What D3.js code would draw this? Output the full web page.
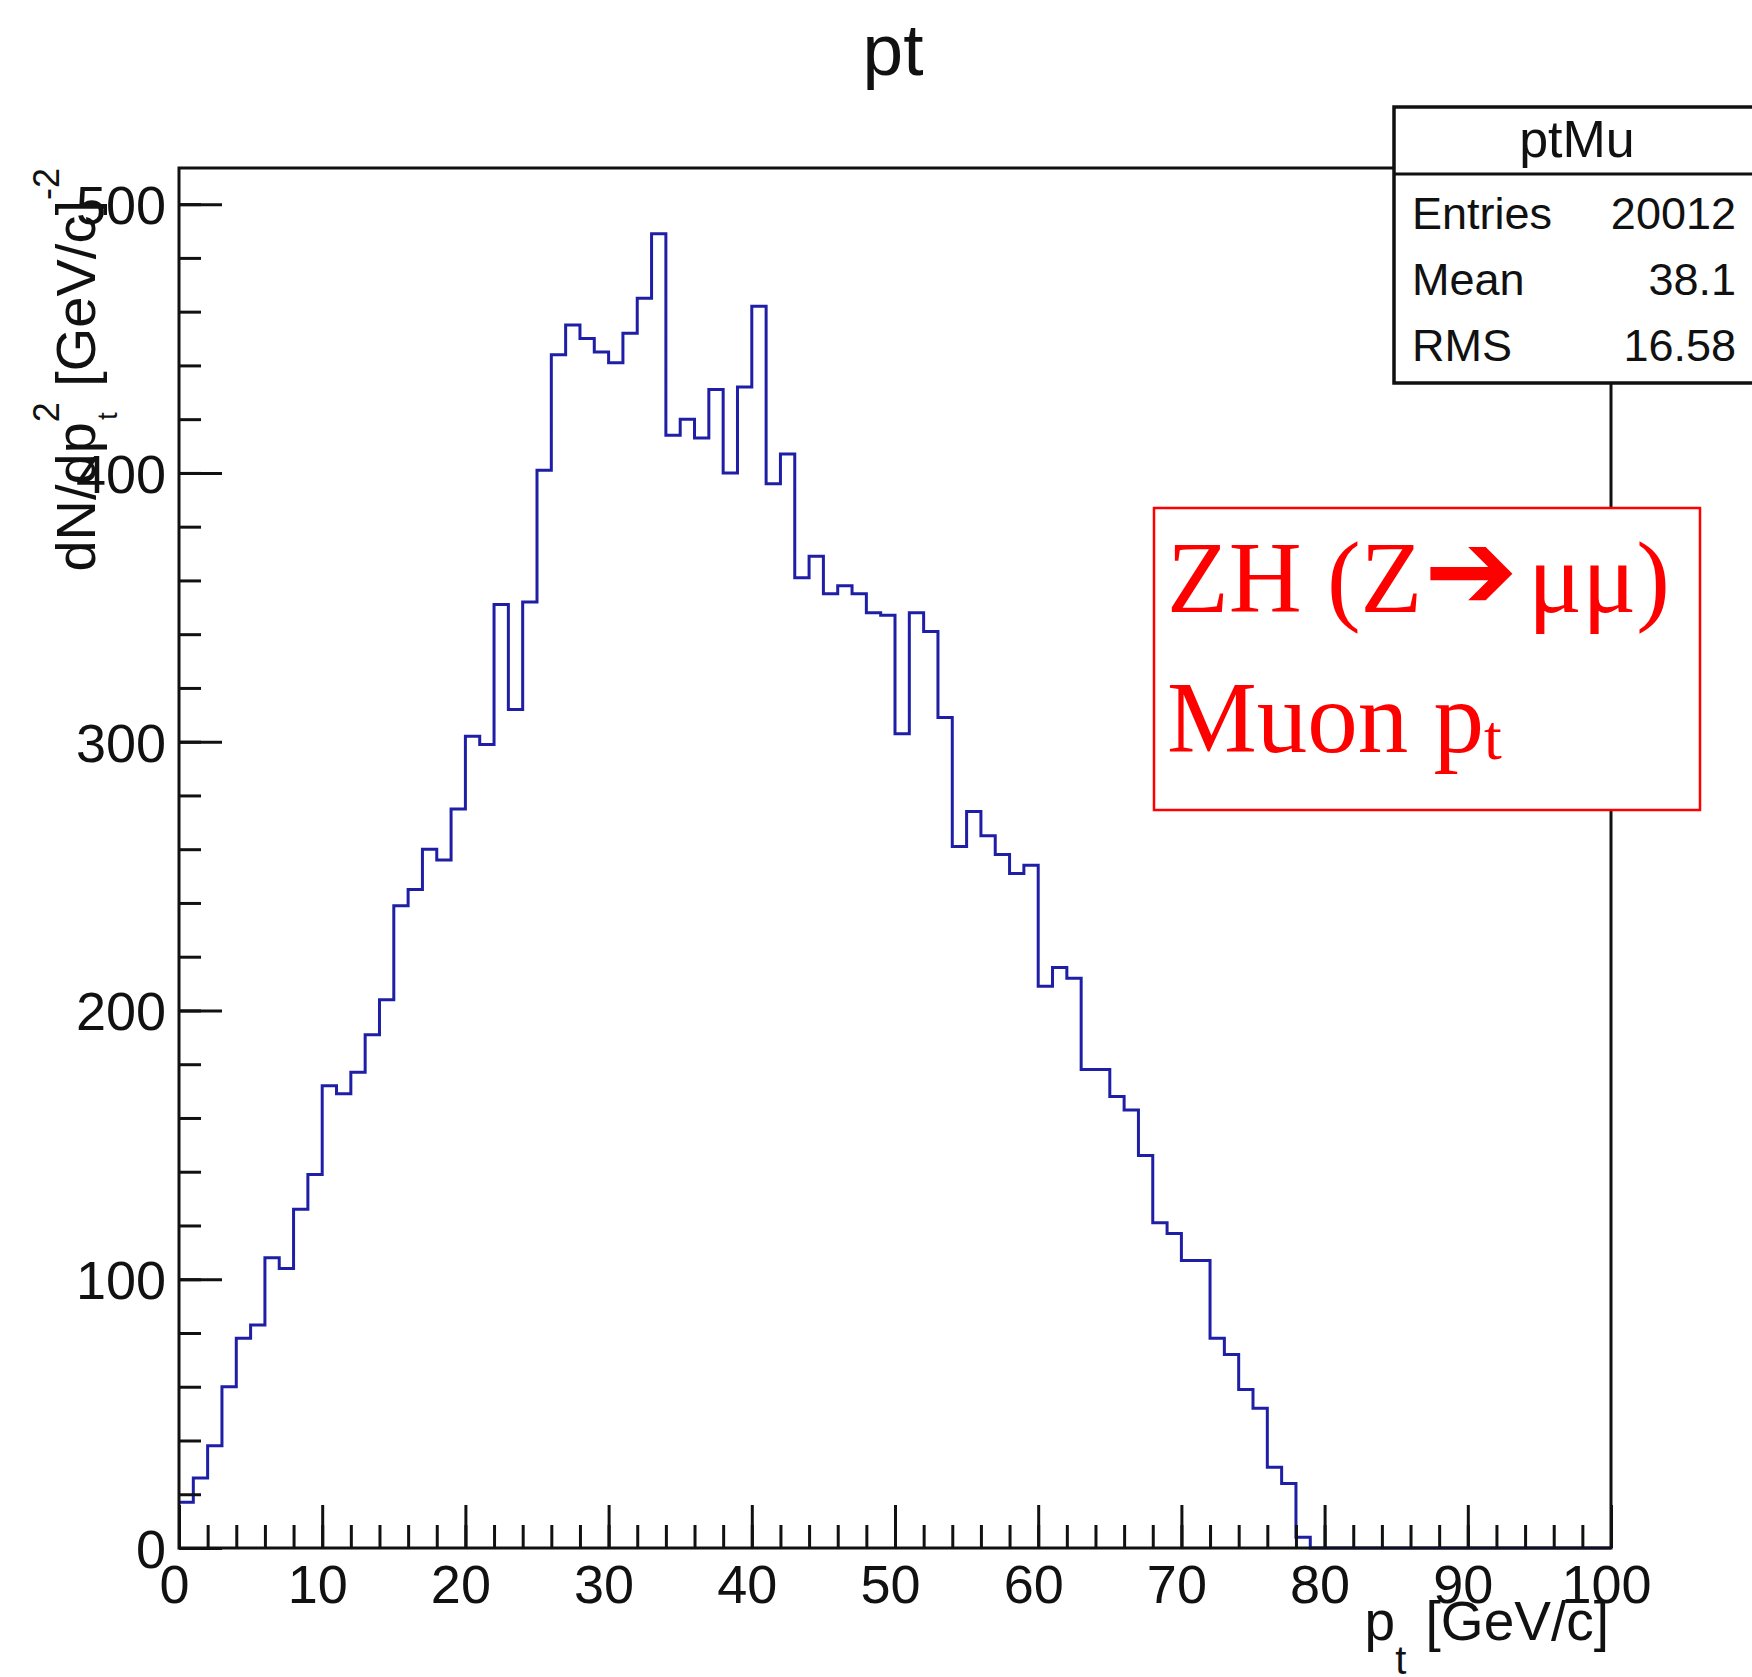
<!DOCTYPE html>
<html>
<head>
<meta charset="utf-8">
<script src="https://cdn.jsdelivr.net/npm/d3@7"></script>
<style>
  body { margin: 0; background: #fff; }
  svg { font-family: 'Liberation Sans', Arial, sans-serif; }
</style>
</head>
<body>
<div id="chart"></div>
<script>
// muon pt histogram, 100 bins of 1 GeV/c from 0 to 100
const ptCounts = [
  17, 26, 38, 60, 78, 83, 108, 104, 126, 139,
  172, 169, 177, 191, 204, 239, 245, 260, 256, 275,
  302, 299, 351, 312, 352, 401, 444, 455, 450, 445,
  441, 452, 465, 489, 414, 420, 413, 431, 400, 432,
  462, 396, 407, 361, 369, 355, 358, 355, 348, 347,
  303, 348, 341, 309, 261, 274, 265, 258, 251, 254,
  209, 216, 212, 178, 178, 168, 163, 146, 121, 117,
  107, 107, 78, 72, 59, 52, 30, 24, 4, 0,
  0, 0, 0, 0, 0, 0, 0, 0, 0, 0,
  0, 0, 0, 0, 0, 0, 0, 0, 0, 0
]
const xRange = [0, 100]
const xTicks = [0, 10, 20, 30, 40, 50, 60, 70, 80, 90, 100]
const yTicks = [0, 100, 200, 300, 400, 500]
const statLabels = ['Entries', 'Mean', 'RMS']
const statValues = ['20012', '38.1', '16.58']

const W = 1752
const H = 1677
const margin = { top: 168, right: 141, bottom: 129, left: 179 }
const width = W - margin.left - margin.right
const height = H - margin.top - margin.bottom

const svg = d3.select('#chart')
  .append('svg')
  .attr('width', W)
  .attr('height', H)

const g = svg.append('g')
  .attr('transform', `translate(${margin.left},${margin.top})`)

const x = d3.scaleLinear()
  .domain(xRange)
  .range([0, width])
// ROOT puts the maximum at 1.05 x the highest bin
const y = d3.scaleLinear()
  .domain([0, d3.max(ptCounts) * 1.05])
  .range([height, 0])

// histogram outline
const binWidth = (xRange[1] - xRange[0]) / ptCounts.length
const points = ptCounts.map((v, i) => [xRange[0] + i * binWidth, v])
points.push([xRange[1], ptCounts[ptCounts.length - 1]])

const line = d3.line()
  .x(d => x(d[0]))
  .y(d => y(d[1]))
  .curve(d3.curveStepAfter)

g.append('path')
  .datum(points)
  .attr('d', line)
  .attr('fill', 'none')
  .attr('stroke', '#1e1ea6')
  .attr('stroke-width', 3)

// minor ticks first, then the major ones with labels
g.append('g')
  .attr('transform', `translate(0,${height})`)
  .call(d3.axisBottom(x).tickValues(d3.range(0, 101, 2)).tickSizeInner(-23).tickSizeOuter(0).tickFormat(''))
  .call(ax => ax.select('.domain').remove())

const xAxis = g.append('g')
  .attr('transform', `translate(0,${height})`)
  .call(d3.axisBottom(x).tickValues(xTicks).tickSizeInner(-43).tickSizeOuter(0).tickFormat(d3.format('d')))
  .call(ax => ax.select('.domain').remove())

xAxis.selectAll('text')
  .attr('x', -5)
  .attr('y', 55)
  .attr('dy', 0)
  .attr('font-size', 54)
  .attr('font-family', null)
  .attr('fill', '#111')

g.append('g')
  .call(d3.axisLeft(y).tickValues(d3.range(0, 501, 20)).tickSizeInner(-22).tickSizeOuter(0).tickFormat(''))
  .call(ax => ax.select('.domain').remove())

const yAxis = g.append('g')
  .call(d3.axisLeft(y).tickValues(yTicks).tickSizeInner(-43).tickSizeOuter(0).tickPadding(13).tickFormat(d3.format('d')))
  .call(ax => ax.select('.domain').remove())

yAxis.selectAll('text')
  .attr('dy', '0.36em')
  .attr('font-size', 54)
  .attr('font-family', null)
  .attr('fill', '#111')

svg.selectAll('.tick line')
  .attr('stroke', '#111')
  .attr('stroke-width', 3)

// frame
g.append('rect')
  .attr('width', width)
  .attr('height', height)
  .attr('fill', 'none')
  .attr('stroke', '#111')
  .attr('stroke-width', 3)

// title
svg.append('text')
  .attr('x', margin.left + width / 2 - 2)
  .attr('y', 75)
  .attr('text-anchor', 'middle')
  .attr('font-size', 73)
  .attr('fill', '#111')
  .text('pt')

// x axis title
const xTitle = svg.append('text')
  .attr('x', margin.left + width - 2)
  .attr('y', 1640)
  .attr('text-anchor', 'end')
  .attr('font-size', 55)
  .attr('fill', '#111')
xTitle.append('tspan').text('p')
xTitle.append('tspan').attr('font-size', 40).attr('dy', 34).text('t')
xTitle.append('tspan').attr('dy', -34).attr('dx', 4).text(' [GeV/c]')

// y axis title
const yTitle = svg.append('text')
  .attr('transform', `translate(95,${margin.top}) rotate(-90)`)
  .attr('text-anchor', 'end')
  .attr('font-size', 56)
  .attr('fill', '#111')
yTitle.append('tspan').text('dN/dp')
yTitle.append('tspan').attr('font-size', 36).attr('dy', -36).text('2')
yTitle.append('tspan').attr('font-size', 28).attr('dx', -18).attr('dy', 58).text('t')
yTitle.append('tspan').attr('dx', 10).attr('dy', -22).text(' [GeV/c]')
yTitle.append('tspan').attr('font-size', 36).attr('dy', -36).text('-2')

// stats box
const stats = svg.append('g')
stats.append('rect')
  .attr('x', 1394)
  .attr('y', 107)
  .attr('width', 380)
  .attr('height', 276)
  .attr('fill', '#fff')
  .attr('stroke', '#111')
  .attr('stroke-width', 3.5)
stats.append('line')
  .attr('x1', 1394)
  .attr('x2', W)
  .attr('y1', 174)
  .attr('y2', 174)
  .attr('stroke', '#111')
  .attr('stroke-width', 3)
stats.append('text')
  .attr('x', 1577)
  .attr('y', 157)
  .attr('text-anchor', 'middle')
  .attr('font-size', 52)
  .attr('fill', '#111')
  .text('ptMu')

const rowY = d3.scalePoint()
  .domain(statLabels)
  .range([229, 361])

stats.selectAll('.stat-label')
  .data(statLabels)
  .enter().append('text')
  .attr('class', 'stat-label')
  .attr('x', 1412)
  .attr('y', d => rowY(d))
  .attr('font-size', 45)
  .attr('fill', '#111')
  .text(d => d)

stats.selectAll('.stat-value')
  .data(statValues)
  .enter().append('text')
  .attr('class', 'stat-value')
  .attr('x', 1736)
  .attr('y', (_, i) => rowY(statLabels[i]))
  .attr('text-anchor', 'end')
  .attr('font-size', 45)
  .attr('fill', '#111')
  .text(d => d)

// red annotation box
const note = svg.append('g')
note.append('rect')
  .attr('x', 1154)
  .attr('y', 508)
  .attr('width', 546)
  .attr('height', 302)
  .attr('fill', '#fff')
  .attr('stroke', '#ff0000')
  .attr('stroke-width', 2.5)

const serif = "'Liberation Serif', 'Times New Roman', serif"
const line1 = note.append('text')
  .attr('x', 1167)
  .attr('y', 612)
  .style('font-family', serif)
  .attr('font-size', 101)
  .attr('fill', '#ff0000')
line1.append('tspan').text('ZH (Z')
line1.append('tspan')
  .attr('x', 1424)
  .attr('dy', -3)
  .style('font-family', "'DejaVu Sans', sans-serif")
  .attr('font-weight', 'bold')
  .attr('font-size', 112)
  .text('➔')
line1.append('tspan').attr('x', 1528).attr('dy', 3).text('μμ)')

const line2 = note.append('text')
  .attr('x', 1167)
  .attr('y', 752)
  .style('font-family', serif)
  .attr('font-size', 101)
  .attr('fill', '#ff0000')
line2.append('tspan').text('Muon p')
line2.append('tspan').attr('font-size', 64).attr('dy', 7).text('t')
</script>
</body>
</html>
